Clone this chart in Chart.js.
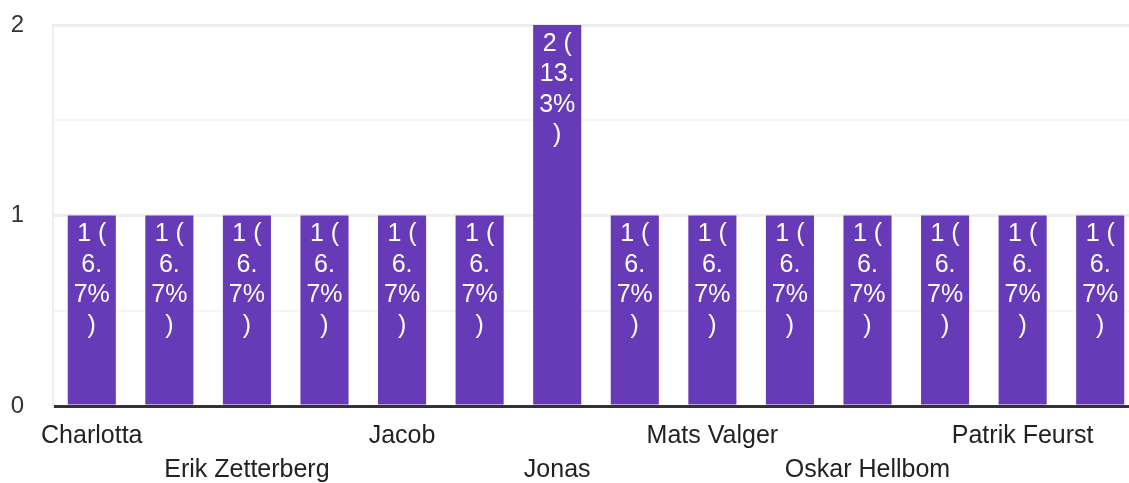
<!DOCTYPE html>
<html>
<head>
<meta charset="utf-8">
<script src="https://cdn.jsdelivr.net/npm/chart.js@4/dist/chart.umd.min.js"></script>
<style>
html,body{margin:0;padding:0;background:#fff;overflow:hidden;}
#wrap{width:1139px;height:483px;}
</style>
</head>
<body>
<div id="wrap"><canvas id="c" width="1139" height="483"></canvas></div>
<script>
// Categories (only every other name is legible in the reference; hidden ones left blank)
const categories = ['Charlotta', '', 'Erik Zetterberg', '', 'Jacob', '', 'Jonas', '', 'Mats Valger', '', 'Oskar Hellbom', '', 'Patrik Feurst', ''];
const counts = [1, 1, 1, 1, 1, 1, 2, 1, 1, 1, 1, 1, 1, 1];
const yTickLabels = [0, 1, 2];

const total = counts.reduce((a, b) => a + b, 0);
const FONT = '"Liberation Sans", Arial, Helvetica, sans-serif';

const labelPlugin = {
  id: 'barLabels',
  afterDatasetsDraw(chart) {
    const ctx = chart.ctx;
    const meta = chart.getDatasetMeta(0);
    ctx.save();
    ctx.fillStyle = '#ffffff';
    ctx.font = '25px ' + FONT;
    ctx.textAlign = 'center';
    ctx.textBaseline = 'middle';
    meta.data.forEach((bar, i) => {
      const v = counts[i];
      const pct = (v / total * 100).toFixed(1);
      const parts = pct.split('.');
      const lines = [v + ' (', parts[0] + '.', parts[1] + '%', ')'];
      lines.forEach((t, k) => {
        ctx.fillText(t, bar.x, bar.y + 19 + k * 30.5);
      });
    });
    ctx.restore();
  }
};

new Chart(document.getElementById('c'), {
  type: 'bar',
  data: {
    labels: categories,
    datasets: [{
      data: counts,
      backgroundColor: '#673ab7',
      borderWidth: 0,
      barPercentage: 0.62,
      categoryPercentage: 1.0
    }]
  },
  options: {
    responsive: false,
    animation: false,
    layout: { padding: { top: 25, left: 0, right: 0, bottom: 0 } },
    plugins: { legend: { display: false }, tooltip: { enabled: false } },
    scales: {
      x: {
        grid: { display: false, drawTicks: false },
        border: { display: true, color: '#333333', width: 3 },
        ticks: {
          autoSkip: false,
          maxRotation: 0,
          minRotation: 0,
          padding: 13,
          color: '#222222',
          font: { family: FONT, size: 25, lineHeight: 1.36 },
          callback: function (val, idx) {
            const name = categories[idx];
            if (!name) return '';
            return (idx / 2) % 2 === 0 ? [name, ''] : ['', name];
          }
        },
        afterFit: function (s) { s.height = 77; s.paddingLeft = 0; s.paddingRight = 0; }
      },
      y: {
        min: 0,
        max: 2,
        border: { display: true, color: '#eeeeee', width: 2 },
        grid: {
          drawTicks: false,
          color: function (c) {
            const v = c.tick.value;
            if (v === 0) return 'rgba(0,0,0,0)';
            return Number.isInteger(v) ? '#eeeeee' : '#f5f5f5';
          },
          lineWidth: function (c) {
            return Number.isInteger(c.tick.value) ? 3 : 2;
          }
        },
        ticks: {
          stepSize: 0.5,
          padding: 29,
          color: '#333333',
          font: { family: FONT, size: 24 },
          callback: function (v) {
            return yTickLabels.includes(v) ? String(v) : '';
          }
        },
        afterFit: function (s) { s.width = 53; s.paddingTop = 0; s.paddingBottom = 0; }
      }
    }
  },
  plugins: [labelPlugin]
});
</script>
</body>
</html>
